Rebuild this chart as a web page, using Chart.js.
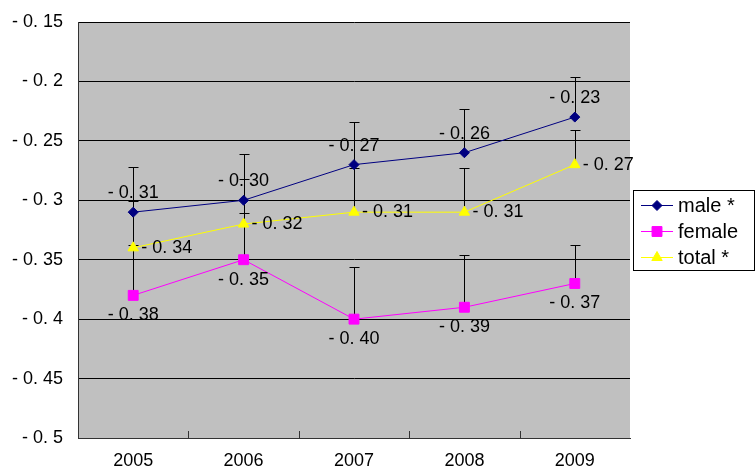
<!DOCTYPE html>
<html>
<head>
<meta charset="utf-8">
<script src="https://cdn.jsdelivr.net/npm/chart.js@4.4.0/dist/chart.umd.min.js"></script>
<style>
html, body { margin: 0; padding: 0; background: #fff; }
</style>
</head>
<body>
<canvas id="myChart" width="755" height="468"></canvas>
<script>
const years = ["2005", "2006", "2007", "2008", "2009"]
const male = [-0.31, -0.30, -0.27, -0.26, -0.23]
const female = [-0.38, -0.35, -0.40, -0.39, -0.37]
const total = [-0.34, -0.32, -0.31, -0.31, -0.27]
// upper error bars
const maleErr = [0.038, 0.039, 0.036, 0.037, 0.034]
const femaleErr = [0.042, 0.039, 0.044, 0.044, 0.032]
const totalErr = [0.039, 0.038, 0.037, 0.037, 0.029]
const yTicks = [-0.5, -0.45, -0.4, -0.35, -0.3, -0.25, -0.2, -0.15]

const fontFam = "'Liberation Sans', Arial, sans-serif"

// "-0.15" -> "- 0. 15"
function fmt(v, fixed) {
    let s = fixed ? Math.abs(v).toFixed(2) : String(Math.abs(v))
    return (v < 0 ? "- " : "") + s.replace(".", ". ")
}

const series = [
    { label: "male *", data: male, err: maleErr, color: "#000080", style: "rectRot", radius: 5, pos: "above" },
    { label: "female", data: female, err: femaleErr, color: "#FF00FF", style: "rect", radius: 7, pos: "below" },
    { label: "total *", data: total, err: totalErr, color: "#FFFF00", style: "triangle", radius: 6, pos: "right" },
]

const extras = {
    id: "extras",
    beforeDraw(chart) {
        const a = chart.chartArea
        const ctx = chart.ctx
        ctx.save()
        ctx.fillStyle = "#C0C0C0"
        ctx.fillRect(a.left, a.top, a.right - a.left, a.bottom - a.top)
        ctx.restore()
    },
    beforeDatasetsDraw(chart) {
        const ctx = chart.ctx
        const xs = chart.scales.x
        const ys = chart.scales.y
        ctx.save()
        ctx.strokeStyle = "#000"
        ctx.lineWidth = 1
        series.forEach(function (s) {
            for (let i = 0; i < s.data.length; i++) {
                const x = Math.round(xs.getPixelForValue(i)) + 0.5
                const y0 = ys.getPixelForValue(s.data[i])
                const y1 = Math.round(ys.getPixelForValue(s.data[i] + s.err[i])) + 0.5
                ctx.beginPath()
                ctx.moveTo(x, y0)
                ctx.lineTo(x, y1)
                ctx.moveTo(x - 5, y1)
                ctx.lineTo(x + 5, y1)
                ctx.stroke()
            }
        })
        ctx.restore()
    },
    afterDraw(chart) {
        const ctx = chart.ctx
        const xs = chart.scales.x
        const ys = chart.scales.y
        const a = chart.chartArea
        ctx.save()

        // small inward tick marks between categories
        ctx.strokeStyle = "#333"
        ctx.lineWidth = 1
        for (let i = 0; i < years.length - 1; i++) {
            const x = Math.round((xs.getPixelForValue(i) + xs.getPixelForValue(i + 1)) / 2) + 0.5
            ctx.beginPath()
            ctx.moveTo(x, a.bottom)
            ctx.lineTo(x, a.bottom - 7)
            ctx.stroke()
        }

        // data labels
        ctx.fillStyle = "#000"
        ctx.font = "18px " + fontFam
        series.forEach(function (s) {
            for (let i = 0; i < s.data.length; i++) {
                const x = xs.getPixelForValue(i)
                const y = ys.getPixelForValue(s.data[i])
                const t = fmt(s.data[i], true)
                ctx.textBaseline = "middle"
                if (s.pos === "above") {
                    ctx.textAlign = "center"
                    ctx.fillText(t, x, y - 19)
                } else if (s.pos === "below") {
                    ctx.textAlign = "center"
                    ctx.fillText(t, x, y + 20)
                } else {
                    ctx.textAlign = "left"
                    ctx.fillText(t, x + 8, y)
                }
            }
        })

        // legend
        const lx = 633.5, ly = 190.5, lw = 121, lh = 80
        ctx.fillStyle = "#fff"
        ctx.fillRect(lx, ly, lw, lh)
        ctx.strokeStyle = "#000"
        ctx.strokeRect(lx, ly, lw, lh)
        ctx.font = "20px " + fontFam
        series.forEach(function (s, k) {
            const y = 205.5 + k * 26
            ctx.strokeStyle = s.color
            ctx.lineWidth = 1
            ctx.beginPath()
            ctx.moveTo(641, y)
            ctx.lineTo(673, y)
            ctx.stroke()
            ctx.fillStyle = s.color
            Chart.helpers.drawPoint(ctx, { pointStyle: s.style, radius: s.radius, rotation: 0, borderWidth: 1 }, 657, y)
            ctx.fillStyle = "#000"
            ctx.textAlign = "left"
            ctx.textBaseline = "middle"
            ctx.fillText(s.label, 678, y + 1)
        })
        ctx.restore()
    },
}

const ctx = document.getElementById("myChart").getContext("2d")
let myChart = new Chart(ctx, {
    type: "line",
    data: {
        labels: years,
        datasets: series.map(function (s) {
            return {
                label: s.label,
                data: s.data,
                borderColor: s.color,
                backgroundColor: s.color,
                borderWidth: 1,
                pointStyle: s.style,
                pointRadius: s.radius,
                pointBorderWidth: 1,
                pointBorderColor: s.color,
                pointBackgroundColor: s.color,
                tension: 0,
                fill: false,
            }
        }),
    },
    options: {
        responsive: false,
        animation: false,
        layout: { padding: { left: 0, top: 22, right: 125, bottom: 0 } },
        plugins: {
            legend: { display: false },
            tooltip: { enabled: false },
        },
        scales: {
            x: {
                offset: true,
                grid: { display: false },
                border: { display: true, color: "#333", width: 1 },
                ticks: { color: "#000", padding: 4, font: { family: fontFam, size: 18 } },
                afterFit: function (scale) { scale.height = 30 },
            },
            y: {
                min: -0.5,
                max: -0.15,
                afterBuildTicks: function (scale) {
                    scale.ticks = yTicks.map(function (v) { return { value: v } })
                },
                grid: { color: "#000", lineWidth: 1, drawTicks: false },
                border: { display: true, color: "#333", width: 1 },
                ticks: {
                    color: "#000",
                    padding: 15,
                    font: { family: fontFam, size: 18 },
                    callback: function (v) { return fmt(v, false) },
                },
                afterFit: function (scale) {
                    scale.width = 78
                    scale.paddingTop = 0
                    scale.paddingBottom = 0
                },
            },
        },
    },
    plugins: [extras],
})
</script>
</body>
</html>
